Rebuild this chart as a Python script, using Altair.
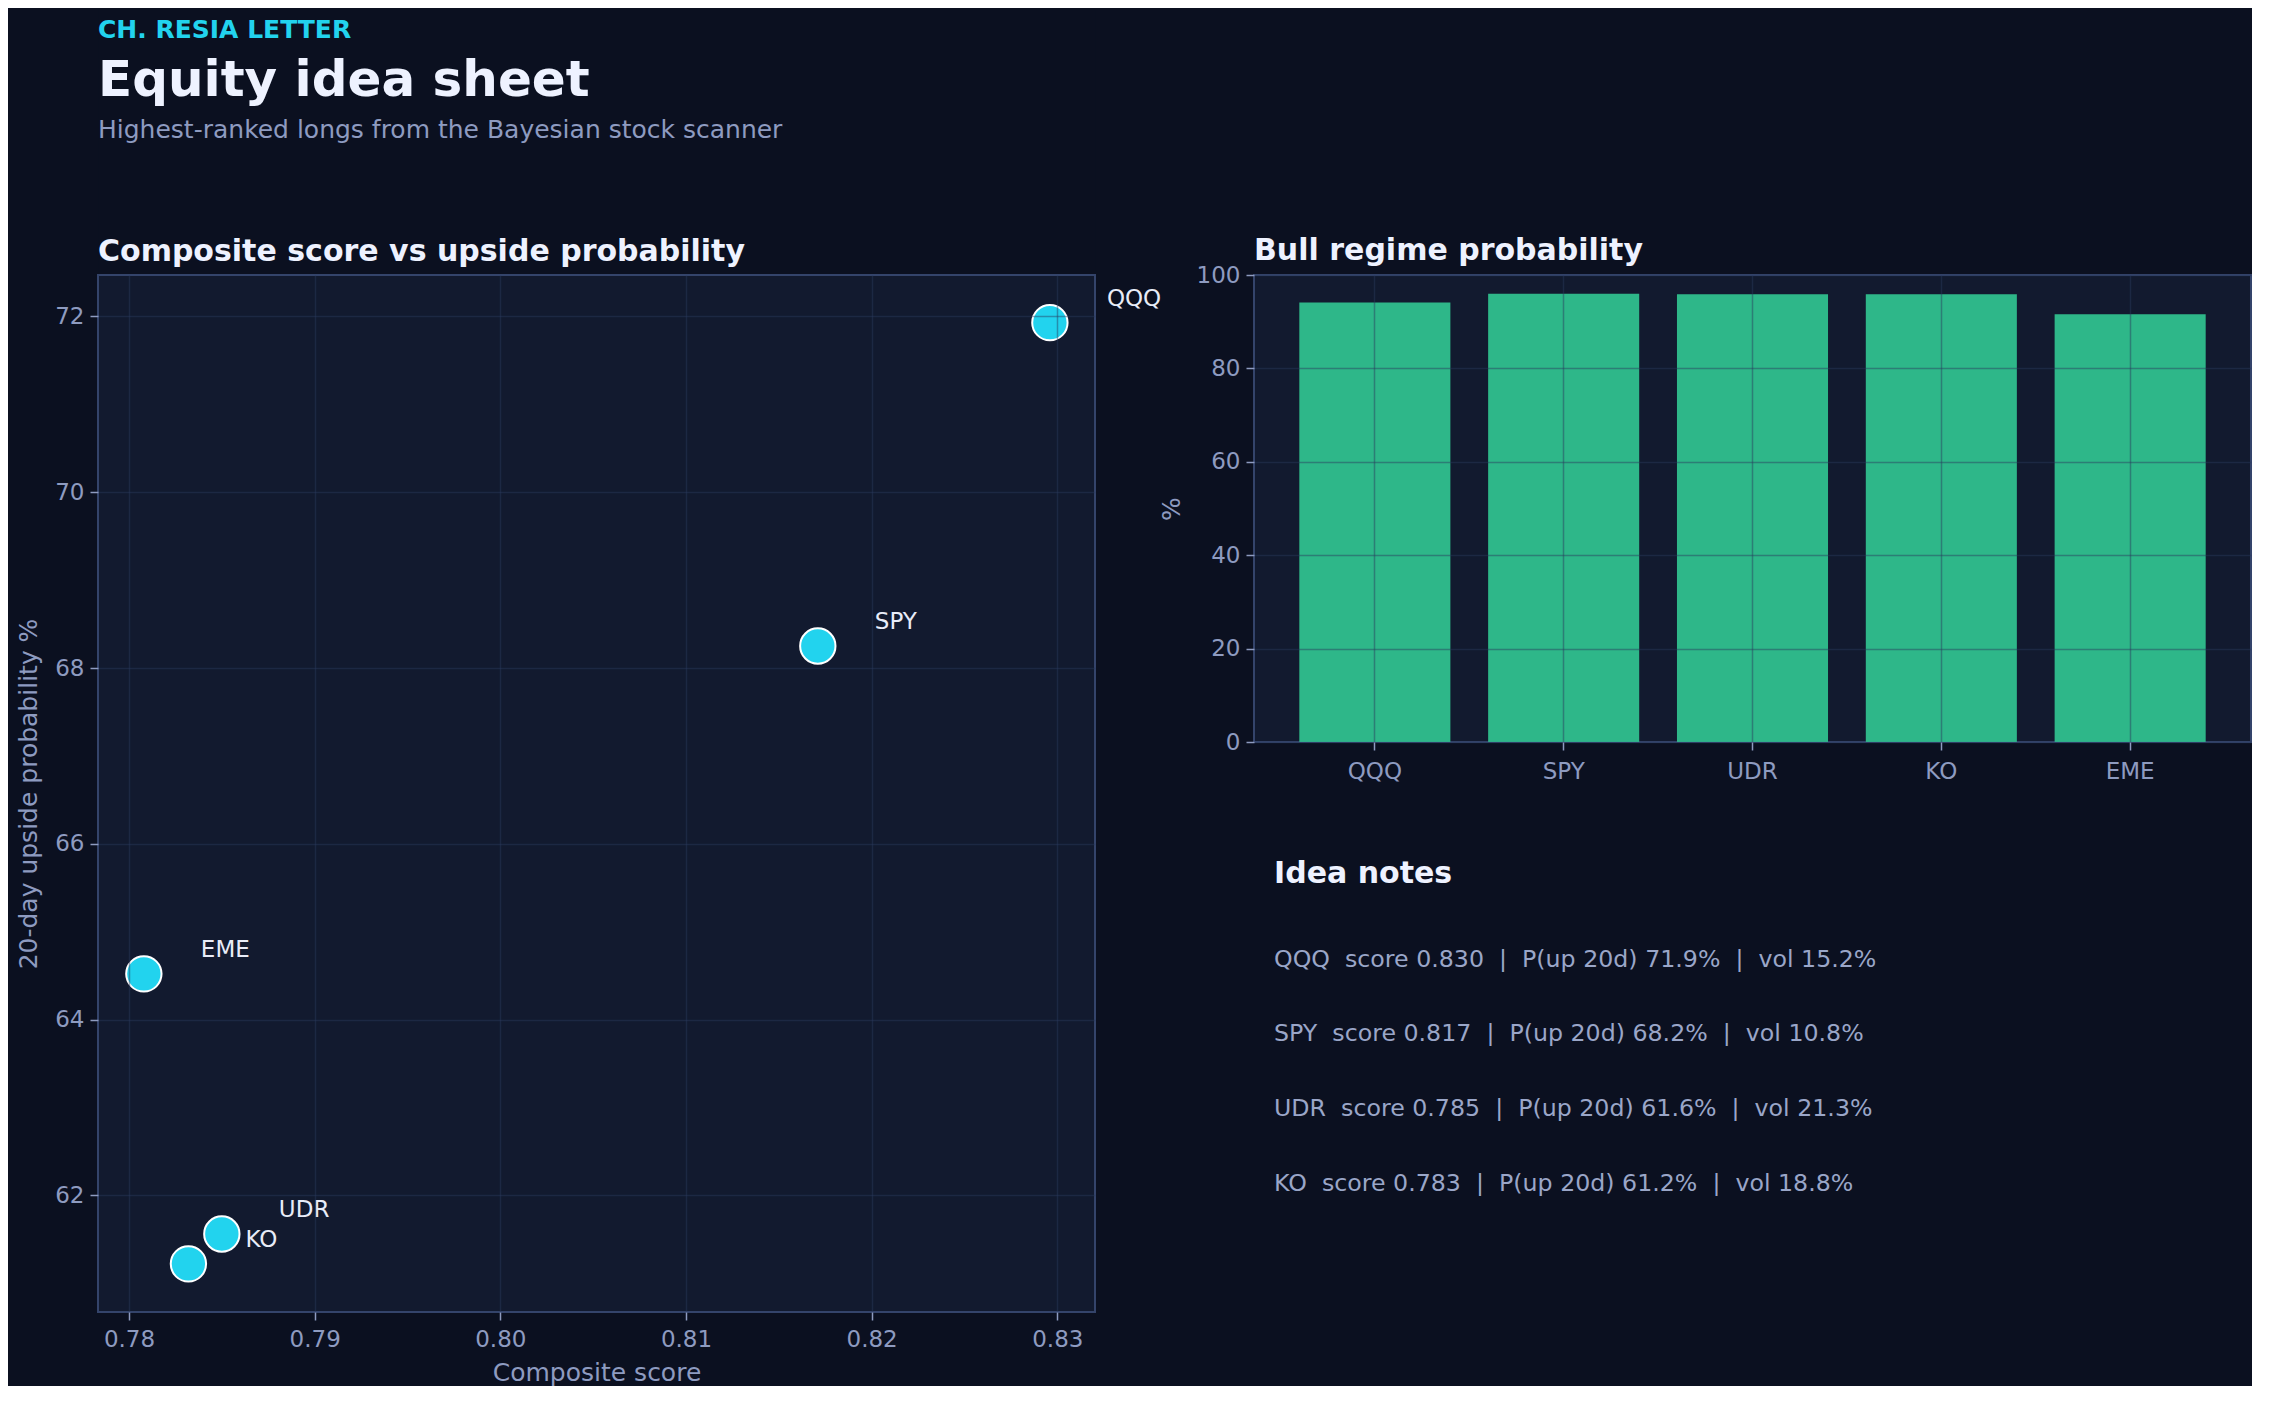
import altair as alt
import pandas as pd

# ---------------- data ----------------
tickers = ["QQQ", "SPY", "UDR", "KO", "EME"]
composite = [0.8296, 0.8171, 0.7850, 0.7832, 0.7808]
upside = [71.93, 68.25, 61.56, 61.22, 64.52]
bull = [94.1, 96.0, 95.9, 95.9, 91.6]

note_tickers = ["QQQ", "SPY", "UDR", "KO"]
note_scores = [0.830, 0.817, 0.785, 0.783]
note_pup = [71.9, 68.2, 61.6, 61.2]
note_vol = [15.2, 10.8, 21.3, 18.8]

kicker = "CH. RESIA LETTER"
main_title = "Equity idea sheet"
subtitle = "Highest-ranked longs from the Bayesian stock scanner"
scatter_title = "Composite score vs upside probability"
bar_title = "Bull regime probability"
notes_title = "Idea notes"
x_label = "Composite score"
y_label = "20-day upside probability %"
bar_y_label = "%"
x_ticks = [0.78, 0.79, 0.80, 0.81, 0.82, 0.83]
y_ticks = [62, 64, 66, 68, 70, 72]
bar_ticks = [0, 20, 40, 60, 80, 100]

# ---------------- style ----------------
FONT = "DejaVu Sans"
BG = "#0b1020"
FACE = "#121a2f"
SPINE = "#34446b"
GRID = "#2b3a5e"
LABEL = "#8e9bc0"
TITLE = "#eef2ff"
CYAN = "#22d3ee"
GREEN = "#34d399"
NOTE = "#9aa6c8"

NB = "\u00a0"

def axis_common(**kw):
    base = dict(
        labelFont=FONT, labelFontSize=23, labelColor=LABEL,
        titleFont=FONT, titleFontSize=25, titleFontWeight="normal", titleColor=LABEL,
        tickColor=LABEL, tickSize=8, tickWidth=1.5, domain=False,
        gridColor=GRID, gridOpacity=0.45, gridWidth=1.5, zindex=1,
        labelPadding=6,
    )
    base.update(kw)
    return alt.Axis(**base)

def panel_title(text, offset):
    return alt.TitleParams(text=text, anchor="start", frame="group", font=FONT,
                           fontSize=30, fontWeight="bold", color=TITLE, offset=offset)

# ---------------- header ----------------
hdf = pd.DataFrame({"k": [kicker], "t": [main_title], "s": [subtitle]})
h1 = alt.Chart(hdf).mark_text(align="left", baseline="alphabetic", font=FONT, fontSize=25,
                              fontWeight="bold", color=CYAN).encode(
    x=alt.value(0), y=alt.value(29), text="k:N")
h2 = alt.Chart(hdf).mark_text(align="left", baseline="alphabetic", font=FONT, fontSize=50,
                              fontWeight="bold", color=TITLE).encode(
    x=alt.value(0), y=alt.value(87), text="t:N")
h3 = alt.Chart(hdf).mark_text(align="left", baseline="alphabetic", font=FONT, fontSize=25,
                              color=LABEL).encode(
    x=alt.value(0), y=alt.value(129), text="s:N")
header = alt.layer(h1, h2, h3).properties(
    width=997, height=265.5, view=alt.ViewBackground(fill=BG, stroke="transparent"))

# ---------------- scatter ----------------
sdf = pd.DataFrame({"ticker": tickers, "score": composite, "pup": upside})
xs = alt.X("score:Q",
           scale=alt.Scale(domain=[0.77833, 0.83203], nice=False, zero=False),
           axis=axis_common(values=x_ticks, format=".2f", title=x_label,
                            labelPadding=8, titlePadding=9))
ys = alt.Y("pup:Q",
           scale=alt.Scale(domain=[60.672, 72.472], nice=False, zero=False),
           axis=axis_common(values=y_ticks, format="d", title=y_label, titlePadding=13))
pts = alt.Chart(sdf).mark_circle(size=1250, color=CYAN, opacity=1, stroke="white",
                                 strokeWidth=2).encode(x=xs, y=ys)
lbl = alt.Chart(sdf).mark_text(align="left", baseline="middle", dx=57, dy=-24, font=FONT,
                               fontSize=23, color="#e8ecf8").encode(
    x=alt.X("score:Q"), y=alt.Y("pup:Q"), text="ticker:N")
scatter = alt.layer(pts, lbl).properties(
    width=997, height=1037, title=panel_title(scatter_title, 8),
    view=alt.ViewBackground(fill=FACE, stroke=SPINE, strokeWidth=2))

# ---------------- bars ----------------
bdf = pd.DataFrame({"ticker": tickers, "bull": bull})
bars = alt.Chart(bdf).mark_bar(color=GREEN, opacity=0.85).encode(
    x=alt.X("ticker:N", sort=tickers,
            scale=alt.Scale(paddingInner=0.2, paddingOuter=0.24),
            axis=axis_common(title=None, labelAngle=0, grid=True, bandPosition=0.5,
                             labelPadding=10)),
    y=alt.Y("bull:Q", scale=alt.Scale(domain=[0, 100], nice=False),
            axis=axis_common(values=bar_ticks, title=bar_y_label, titlePadding=12)),
).properties(width=997, height=467, title=panel_title(bar_title, -2),
             view=alt.ViewBackground(fill=FACE, stroke=SPINE, strokeWidth=2))

# ---------------- notes ----------------
lines = [
    f"{t}{NB}{NB}score {s:.3f}{NB}{NB}|{NB}{NB}P(up 20d) {p:.1f}%{NB}{NB}|{NB}{NB}vol {v:.1f}%"
    for t, s, p, v in zip(note_tickers, note_scores, note_pup, note_vol)
]
ndf = pd.DataFrame({"row": list(range(len(lines))), "line": lines})
nhead = alt.Chart(pd.DataFrame({"t": [notes_title]})).mark_text(
    align="left", baseline="alphabetic", font=FONT, fontSize=30, fontWeight="bold",
    color=TITLE).encode(x=alt.value(20), y=alt.value(141), text="t:N")
nlines = alt.Chart(ndf).mark_text(align="left", baseline="middle", font=FONT, fontSize=23.7,
                                  color=NOTE).encode(
    x=alt.value(20),
    y=alt.Y("row:Q", scale=alt.Scale(domain=[0, 3], range=[217.5, 441.5]), axis=None),
    text="line:N")
notes = alt.layer(nhead, nlines).properties(
    width=997, height=520, view=alt.ViewBackground(fill="transparent", stroke="transparent"))

right = alt.vconcat(bars, notes, spacing=0, bounds="flush")
row = alt.hconcat(scatter, right, spacing=159, bounds="flush")
chart = alt.vconcat(header, row, spacing=0, bounds="flush").properties(
    background=BG, padding={"left": 7, "top": 0, "right": 0, "bottom": 0}
).configure_view(stroke="transparent")

chart.save("out.html", embed_options={"renderer": "svg", "actions": False})
